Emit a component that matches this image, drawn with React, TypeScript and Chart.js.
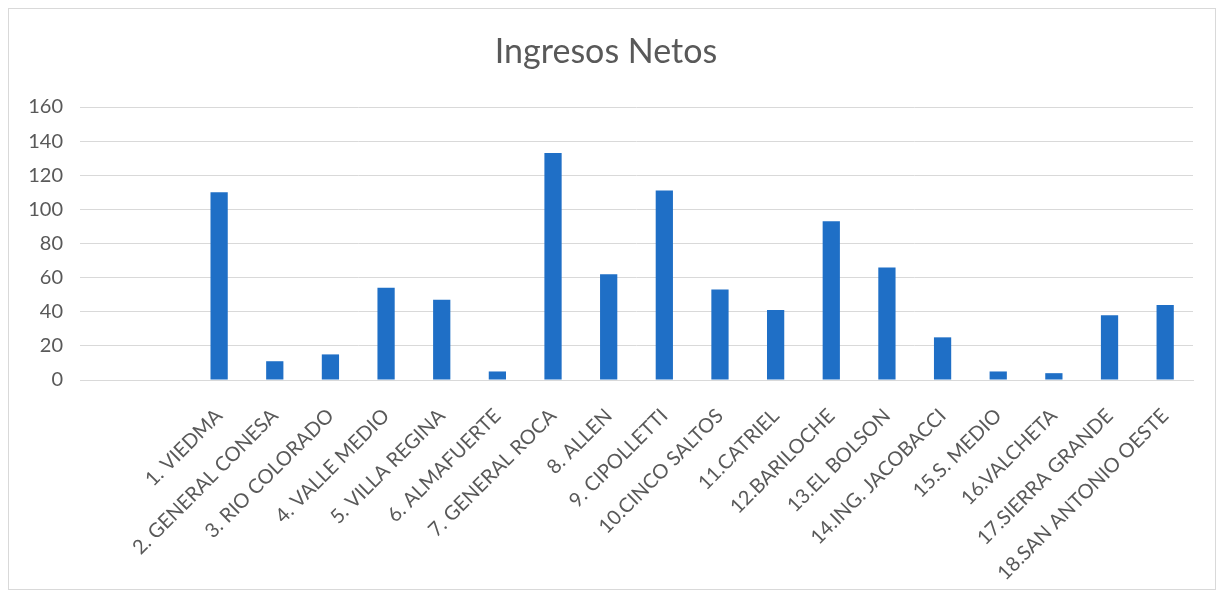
import React, { useEffect, useRef } from "react";
import { Chart, registerables } from "chart.js";

Chart.register(...registerables);

const categories: string[] = [
  "",
  "",
  "1. VIEDMA",
  "2. GENERAL CONESA",
  "3. RIO COLORADO",
  "4. VALLE MEDIO",
  "5. VILLA REGINA",
  "6. ALMAFUERTE",
  "7. GENERAL ROCA",
  "8. ALLEN",
  "9. CIPOLLETTI",
  "10.CINCO SALTOS",
  "11.CATRIEL",
  "12.BARILOCHE",
  "13.EL BOLSON",
  "14.ING. JACOBACCI",
  "15.S. MEDIO",
  "16.VALCHETA",
  "17.SIERRA GRANDE",
  "18.SAN ANTONIO OESTE",
];

const ingresosNetos: (number | null)[] = [
  null, null, 110, 11, 15, 54, 47, 5, 133, 62, 111, 53, 41, 93, 66, 25, 5, 4, 38, 44,
];

const yTicks: number[] = [0, 20, 40, 60, 80, 100, 120, 140, 160];

const FONT = "Lato, 'Open Sans', sans-serif";
const TEXT = "#595959";

export default function App() {
  const ref = useRef<HTMLCanvasElement | null>(null);

  useEffect(() => {
    if (!ref.current) return;
    const chart = new Chart(ref.current, {
      type: "bar",
      data: {
        labels: categories,
        datasets: [
          {
            label: "Ingresos Netos",
            data: ingresosNetos,
            backgroundColor: "#1f6fc6",
            borderWidth: 0,
            barPercentage: 0.31,
            categoryPercentage: 1,
          },
        ],
      },
      options: {
        animation: false,
        responsive: false,
        layout: { padding: { left: 10, right: 22, top: 0, bottom: 0 } },
        plugins: {
          legend: { display: false },
          tooltip: { enabled: false },
          title: {
            display: true,
            text: "Ingresos Netos",
            color: TEXT,
            font: { family: FONT, size: 34, weight: "normal" },
            padding: { top: 23, bottom: 34.2 },
          },
        },
        scales: {
          x: {
            grid: { display: false, drawTicks: false },
            border: { display: true, color: "#d9d9d9" },
            ticks: {
              autoSkip: false,
              maxRotation: 45,
              minRotation: 45,
              padding: 24,
              color: TEXT,
              font: { family: FONT, size: 20 },
            },
            afterFit: (s: any) => {
              s.height = 209;
            },
          },
          y: {
            min: 0,
            max: 160,
            afterBuildTicks: (s: any) => {
              s.ticks = yTicks.map((v) => ({ value: v }));
            },
            grid: { color: "#d9d9d9", drawTicks: false },
            border: { display: false },
            ticks: {
              padding: 17,
              color: TEXT,
              font: { family: FONT, size: 20 },
            },
            afterFit: (s: any) => {
              s.width = 61;
            },
          },
        },
      },
    });
    return () => chart.destroy();
  }, []);

  return (
    <div style={{ border: "1px solid #d9d9d9", width: 1206, height: 580 }}>
      <canvas ref={ref} width={1206} height={580} style={{ display: "block" }} />
    </div>
  );
}
